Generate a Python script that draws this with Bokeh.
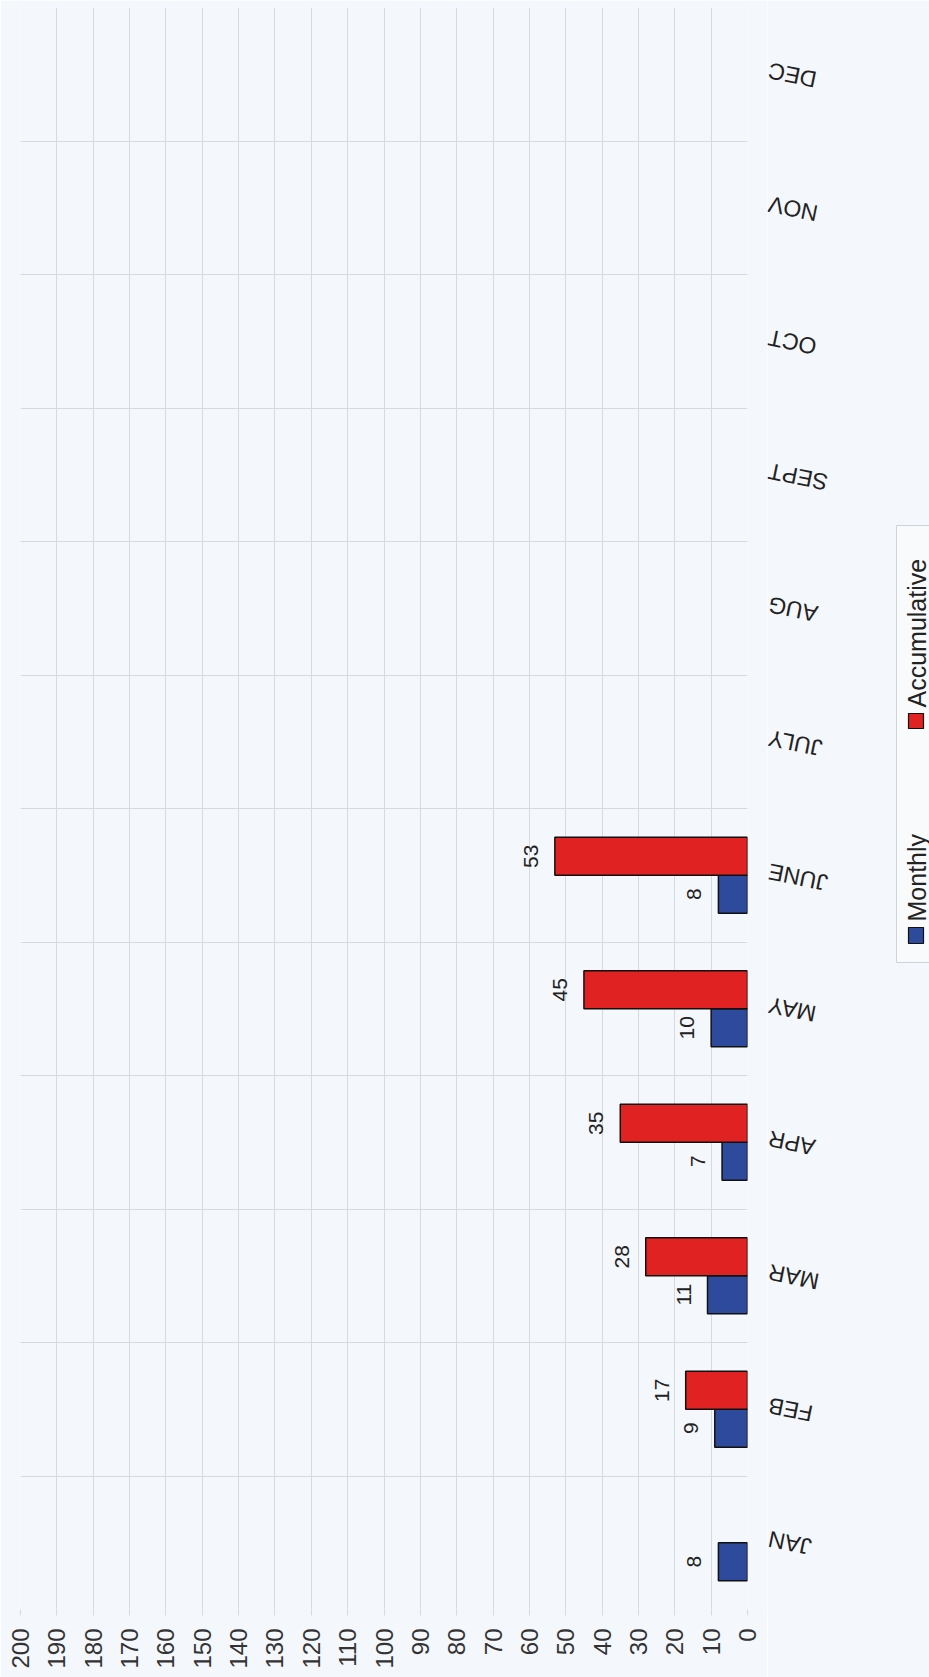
import numpy as np
from bokeh.plotting import figure
from bokeh.layouts import row
from bokeh.models import Range1d, FixedTicker, ColumnDataSource, Grid
from bokeh.transform import dodge
from bokeh.core.properties import value
from bokeh.embed import file_html
from bokeh.resources import INLINE

# ---- data ----
months = ["JAN", "FEB", "MAR", "APR", "MAY", "JUNE", "JULY", "AUG", "SEPT", "OCT", "NOV", "DEC"]
monthly = [8, 9, 11, 7, 10, 8, None, None, None, None, None, None]
accumulative = [None, 17, 28, 35, 45, 53, None, None, None, None, None, None]
value_ticks = list(range(0, 201, 10))
series_names = ["Monthly", "Accumulative"]
series_colors = ["#2e4a9c", "#e02222"]

FONT = "Liberation Sans"
BG = "#f4f7fb"
GRID = "#d6d9de"
H = 1677
TOP, BOTTOM = 7, 68
MAIN_W = 767          # main figure width (frame ends 20px before its right edge)
SIDE_W = 929 - MAIN_W

pos = [i + 0.5 for i in range(len(months))]


def make_source(vals):
    ys, xs, labels = [], [], []
    for p_, v in zip(pos, vals):
        if v is not None:
            ys.append(p_)
            xs.append(v)
            labels.append(str(v))
    return ColumnDataSource(dict(pos=ys, val=xs, label=labels))


src_m = make_source(monthly)
src_a = make_source(accumulative)

# ---------------- main plot ----------------
p = figure(width=MAIN_W, height=H, x_range=Range1d(200, 0), y_range=Range1d(0, len(months)),
           output_backend="svg", toolbar_location=None, y_axis_location=None,
           min_border_left=20, min_border_right=20, min_border_top=TOP, min_border_bottom=BOTTOM)
p.background_fill_color = BG
p.border_fill_color = BG
p.outline_line_color = None

p.xgrid.ticker = FixedTicker(ticks=value_ticks)
p.xgrid.grid_line_color = GRID
p.xgrid.grid_line_width = 1
ygrid = Grid(dimension=1, ticker=FixedTicker(ticks=list(range(len(months) + 1))),
             grid_line_color=GRID, grid_line_width=1)
p.add_layout(ygrid)

xa = p.xaxis[0]
xa.ticker = FixedTicker(ticks=value_ticks)
xa.axis_line_color = None
xa.major_tick_line_color = GRID
xa.major_tick_out = 6
xa.major_tick_in = 0
xa.minor_tick_line_color = None
xa.major_label_orientation = np.pi / 2
xa.major_label_text_font = FONT
xa.major_label_text_font_size = "24px"
xa.major_label_text_color = "#333333"
xa.major_label_standoff = 13

off = 0.142
bh = 0.285
p.hbar(y=dodge("pos", -off), left=0, right="val", height=bh, source=src_m,
       fill_color=series_colors[0], line_color="#111111", line_width=1.5)
p.hbar(y=dodge("pos", off), left=0, right="val", height=bh, source=src_a,
       fill_color=series_colors[1], line_color="#111111", line_width=1.5)

for src, o in ((src_m, -off), (src_a, off)):
    p.text(x="val", y=dodge("pos", o), text="label", source=src, angle=np.pi / 2,
           x_offset=-24, text_align="center", text_baseline="middle",
           text_font=value(FONT), text_font_size="21px", text_color="#222222")

# ---------------- right panel: month labels + legend ----------------
# x coordinates of this panel are page pixels (it starts at MAIN_W)
q = figure(width=SIDE_W, height=H, x_range=Range1d(MAIN_W, 929), y_range=p.y_range,
           output_backend="svg", toolbar_location=None,
           x_axis_location=None, y_axis_location=None,
           min_border_left=0, min_border_right=0, min_border_top=TOP, min_border_bottom=BOTTOM)
q.background_fill_color = BG
q.border_fill_color = BG
q.outline_line_color = None
q.grid.visible = False
q.extra_y_ranges = {"px": Range1d(H - BOTTOM, TOP)}

q.text(x=768, y=pos, text=months, angle=2.94, y_offset=-4,
       text_align="right", text_baseline="alphabetic",
       text_font=value(FONT), text_font_size="23px", text_color="#222222")

# legend (rotated)
q.quad(left=896, right=960, top=525, bottom=962, y_range_name="px",
       fill_color="#f8fafc", line_color="#cfd2d6", line_width=1)
sq_y = [(927, 943), (713, 728)]
txt_y = [921, 707]
for (t, b), ty, name, col in zip(sq_y, txt_y, series_names, series_colors):
    q.quad(left=908, right=923, top=t, bottom=b, y_range_name="px",
           fill_color=col, line_color="#111111", line_width=1.2)
    q.text(x=[916], y=[ty], text=[name], y_range_name="px", angle=np.pi / 2,
           text_align="left", text_baseline="middle",
           text_font=value(FONT), text_font_size="25px", text_color="#222222")

layout = row(p, q)
open("out.html", "w").write(file_html(layout, INLINE))
